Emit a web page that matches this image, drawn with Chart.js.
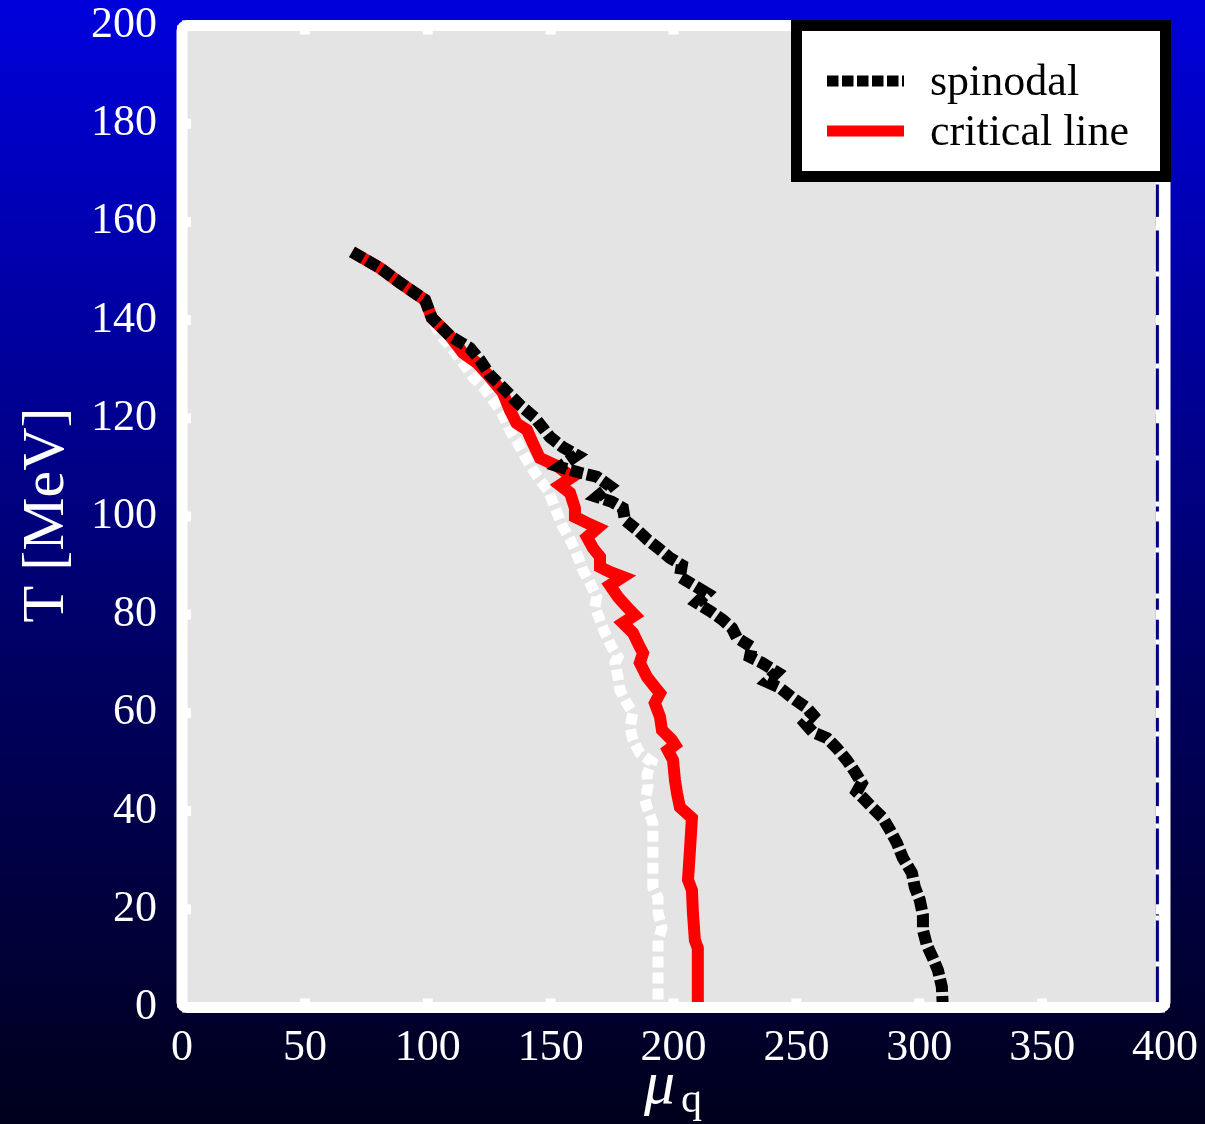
<!DOCTYPE html>
<html>
<head>
<meta charset="utf-8">
<script src="https://cdn.jsdelivr.net/npm/chart.js@4.4.1/dist/chart.umd.min.js"></script>
<style>
  html, body { margin: 0; padding: 0; }
  body {
    width: 1205px; height: 1124px; overflow: hidden;
    background: linear-gradient(to bottom, #0000dc 0%, #000060 60%, #00001c 100%);
  }
  canvas { display: block; }
</style>
</head>
<body>
<canvas id="chart" width="1205" height="1124"></canvas>
<script>
// axis ticks
const xTicks = [0, 50, 100, 150, 200, 250, 300, 350, 400];
const yTicks = [0, 20, 40, 60, 80, 100, 120, 140, 160, 180, 200];

// spinodal (black, dashed)
const spinodalMu = [69.2, 80.6, 88.7, 98.9, 101.7, 109.0, 117.2, 121.2, 125.3, 131.4, 137.5, 143.6, 149.7, 155.0, 160.7, 153.8, 161.9, 168.8, 174.1, 168.8, 174.9, 179.4, 180.2, 185.1, 189.6, 193.7, 198.5, 203.4, 202.6, 207.9, 213.6, 209.5, 215.6, 220.1, 223.8, 225.8, 231.9, 231.1, 236.0, 242.1, 238.0, 243.3, 248.6, 254.3, 256.7, 253.5, 256.7, 262.4, 266.5, 270.5, 273.8, 276.6, 274.6, 277.1, 281.1, 285.2, 288.0, 290.9, 293.3, 297.0, 298.2, 300.2, 301.5, 301.5, 303.1, 305.5, 307.6, 309.2, 309.6];
const spinodalT = [153.9, 150.6, 147.6, 144.1, 140.4, 136.8, 134.3, 131.9, 128.8, 125.8, 122.7, 120.1, 116.2, 114.1, 112.5, 110.1, 108.9, 108.1, 106.2, 104.0, 103.0, 101.7, 99.3, 97.3, 95.2, 93.6, 91.6, 90.1, 87.7, 86.1, 84.4, 82.4, 80.5, 78.9, 77.3, 75.3, 73.4, 71.4, 70.2, 68.3, 66.3, 65.1, 63.0, 61.0, 59.6, 57.9, 56.1, 54.9, 52.8, 50.4, 48.0, 45.7, 43.9, 42.7, 40.6, 38.6, 36.2, 33.5, 30.5, 27.4, 24.5, 21.9, 18.8, 15.8, 12.7, 10.1, 7.6, 4.2, 0];

// critical line (red)
const criticalMu = [69.2, 80.6, 88.7, 98.9, 101.7, 109.0, 114.3, 120.0, 125.3, 130.6, 133.4, 136.1, 140.4, 142.8, 145.6, 152.6, 158.7, 153.8, 157.9, 159.9, 159.9, 164.8, 169.2, 164.8, 167.2, 170.1, 170.1, 174.1, 179.4, 174.1, 177.4, 181.0, 184.3, 179.4, 183.5, 186.3, 187.6, 186.3, 189.2, 192.4, 194.5, 192.4, 194.5, 195.3, 199.3, 200.6, 197.7, 199.8, 200.6, 201.4, 202.6, 207.5, 206.7, 205.9, 207.5, 207.9, 208.7, 209.9, 209.9];
const criticalT = [153.9, 150.6, 147.6, 144.1, 140.4, 136.8, 133.3, 131.3, 128.4, 125.2, 121.7, 119.0, 117.6, 114.9, 111.9, 110.3, 108.0, 106.4, 104.8, 101.7, 99.9, 98.7, 97.7, 95.8, 93.6, 91.8, 89.7, 88.7, 87.7, 86.0, 83.6, 81.6, 79.9, 78.3, 76.3, 73.4, 72.2, 70.2, 67.3, 65.3, 64.0, 62.0, 59.2, 56.5, 54.5, 53.5, 52.4, 50.4, 46.3, 43.7, 40.8, 38.6, 32.1, 26.0, 23.9, 19.3, 13.7, 12.1, 0];

// white dashed curve (no legend entry)
const whiteMu = [69.2, 80.6, 88.7, 98.9, 101.7, 105.0, 109.8, 114.3, 118.4, 122.5, 126.5, 130.2, 133.4, 136.7, 140.4, 142.8, 145.6, 148.9, 151.7, 155.0, 158.7, 161.1, 163.1, 166.0, 168.8, 168.0, 170.1, 172.1, 174.9, 177.4, 176.2, 177.4, 178.2, 181.0, 183.5, 182.3, 183.5, 186.3, 191.2, 189.2, 189.6, 188.4, 189.6, 191.6, 191.6, 191.6, 191.6, 193.7, 193.7, 195.3, 193.7, 193.7, 193.7];
const whiteT = [153.9, 150.6, 147.6, 144.1, 140.4, 137.0, 134.3, 131.3, 128.4, 126.4, 123.7, 121.1, 117.6, 114.9, 111.5, 109.5, 107.4, 105.4, 101.9, 97.9, 94.6, 91.8, 89.1, 86.5, 83.6, 81.6, 78.9, 76.3, 73.4, 71.4, 70.2, 67.3, 64.7, 62.0, 60.0, 57.1, 54.5, 51.8, 50.0, 47.4, 44.9, 42.3, 40.2, 37.6, 34.1, 28.0, 24.5, 22.3, 19.3, 16.2, 13.7, 8.2, 0];

// navy vertical line near the right edge
const edgeMu = [396.9, 396.9];
const edgeT = [0, 200];

const SERIF = '"Liberation Serif", "DejaVu Serif", serif';

function pts(xs, ys) {
  return xs.map((x, i) => ({ x, y: ys[i] }));
}

function noPad(s) {
  s.paddingTop = 0;
  s.paddingBottom = 0;
  s.paddingLeft = 0;
  s.paddingRight = 0;
}

// gray plot background
const plotBg = {
  id: 'plotBg',
  beforeDatasetsDraw(chart) {
    const { ctx, chartArea: a } = chart;
    ctx.save();
    ctx.fillStyle = '#e4e4e4';
    ctx.fillRect(a.left, a.top, a.right - a.left, a.bottom - a.top);
    ctx.restore();
  },
};

// white frame, inner ticks, legend box, axis titles
const overlay = {
  id: 'overlay',
  afterDatasetsDraw(chart) {
    const { ctx, chartArea: a, scales } = chart;
    ctx.save();
    ctx.strokeStyle = '#ffffff';
    ctx.lineWidth = 11;
    ctx.beginPath();
    ctx.roundRect(a.left, a.top, a.right - a.left, a.bottom - a.top, 5);
    ctx.stroke();

    // small inward tick marks
    ctx.fillStyle = '#ffffff';
    xTicks.forEach((v) => {
      const px = scales.x.getPixelForValue(v);
      ctx.fillRect(px - 5, a.top, 10, 9);
      ctx.fillRect(px - 5, a.bottom - 9, 10, 9);
    });
    yTicks.forEach((v) => {
      const py = scales.y.getPixelForValue(v);
      ctx.fillRect(a.left, py - 5, 9, 10);
      ctx.fillRect(a.right - 9, py - 5, 9, 10);
    });

    // legend
    const lx = 791, ly = 20, lw = 380, lh = 162;
    ctx.fillStyle = '#000000';
    ctx.fillRect(lx, ly, lw, lh);
    ctx.fillStyle = '#ffffff';
    ctx.fillRect(lx + 11, ly + 11, lw - 22, lh - 22);

    const entries = chart.data.datasets.filter((d) => d.label);
    entries.forEach((d, i) => {
      const y = 81 + i * 50;
      ctx.strokeStyle = d.borderColor;
      ctx.lineWidth = 11;
      ctx.lineCap = 'butt';
      ctx.setLineDash(d.borderDash ? [11.5, 3.5] : []);
      ctx.beginPath();
      ctx.moveTo(827, y);
      ctx.lineTo(904, y);
      ctx.stroke();
      ctx.setLineDash([]);
      ctx.fillStyle = '#000000';
      ctx.font = '44px ' + SERIF;
      ctx.textAlign = 'left';
      ctx.textBaseline = 'alphabetic';
      ctx.fillText(d.label, 930, y + 14);
    });

    // axis titles
    ctx.fillStyle = '#ffffff';
    ctx.save();
    ctx.translate(63, 515);
    ctx.rotate(-Math.PI / 2);
    ctx.font = '60px ' + SERIF;
    ctx.textAlign = 'center';
    ctx.textBaseline = 'alphabetic';
    ctx.fillText('T [MeV]', 0, 0);
    ctx.restore();

    ctx.font = 'italic 62px ' + SERIF;
    ctx.textAlign = 'left';
    ctx.textBaseline = 'alphabetic';
    ctx.fillText('\u03bc', 644, 1103);
    ctx.font = '42px ' + SERIF;
    ctx.fillText('q', 681, 1112);
    ctx.restore();
  },
};

new Chart(document.getElementById('chart'), {
  type: 'scatter',
  data: {
    datasets: [
      {
        label: 'spinodal',
        data: pts(spinodalMu, spinodalT),
        borderColor: '#000000',
        borderWidth: 12,
        borderDash: [13, 4],
        showLine: true,
        pointRadius: 0,
        tension: 0,
      },
      {
        label: 'critical line',
        data: pts(criticalMu, criticalT),
        borderColor: '#ff0000',
        borderWidth: 12,
        showLine: true,
        pointRadius: 0,
        tension: 0,
      },
      {
        label: '',
        data: pts(whiteMu, whiteT),
        borderColor: '#ffffff',
        borderWidth: 11,
        borderDash: [11, 5],
        showLine: true,
        pointRadius: 0,
        tension: 0,
      },
      {
        label: '',
        data: pts(edgeMu, edgeT),
        borderColor: '#000080',
        borderWidth: 3,
        borderDash: [41, 5],
        showLine: true,
        pointRadius: 0,
      },
      {
        label: '',
        data: pts(edgeMu, edgeT),
        borderColor: '#ffffff',
        borderWidth: 3,
        showLine: true,
        pointRadius: 0,
      },
    ],
  },
  options: {
    responsive: false,
    animation: false,
    events: [],
    layout: { padding: { top: 25.5, right: 40, bottom: 0, left: 0 } },
    scales: {
      x: {
        type: 'linear',
        min: 0,
        max: 400,
        afterBuildTicks: (s) => { s.ticks = xTicks.map((v) => ({ value: v })); },
        afterFit: (s) => { s.height = 116.5; noPad(s); },
        grid: { display: false, drawTicks: false },
        border: { display: false },
        ticks: {
          color: '#ffffff',
          padding: 15,
          maxRotation: 0,
          font: { family: SERIF, size: 44 },
        },
      },
      y: {
        type: 'linear',
        min: 0,
        max: 200,
        afterBuildTicks: (s) => { s.ticks = yTicks.map((v) => ({ value: v })); },
        afterFit: (s) => { s.width = 182; noPad(s); },
        grid: { display: false, drawTicks: false },
        border: { display: false },
        ticks: {
          color: '#ffffff',
          padding: 25,
          font: { family: SERIF, size: 44 },
        },
      },
    },
    plugins: {
      legend: { display: false },
      tooltip: { enabled: false },
    },
  },
  plugins: [plotBg, overlay],
});
</script>
</body>
</html>
